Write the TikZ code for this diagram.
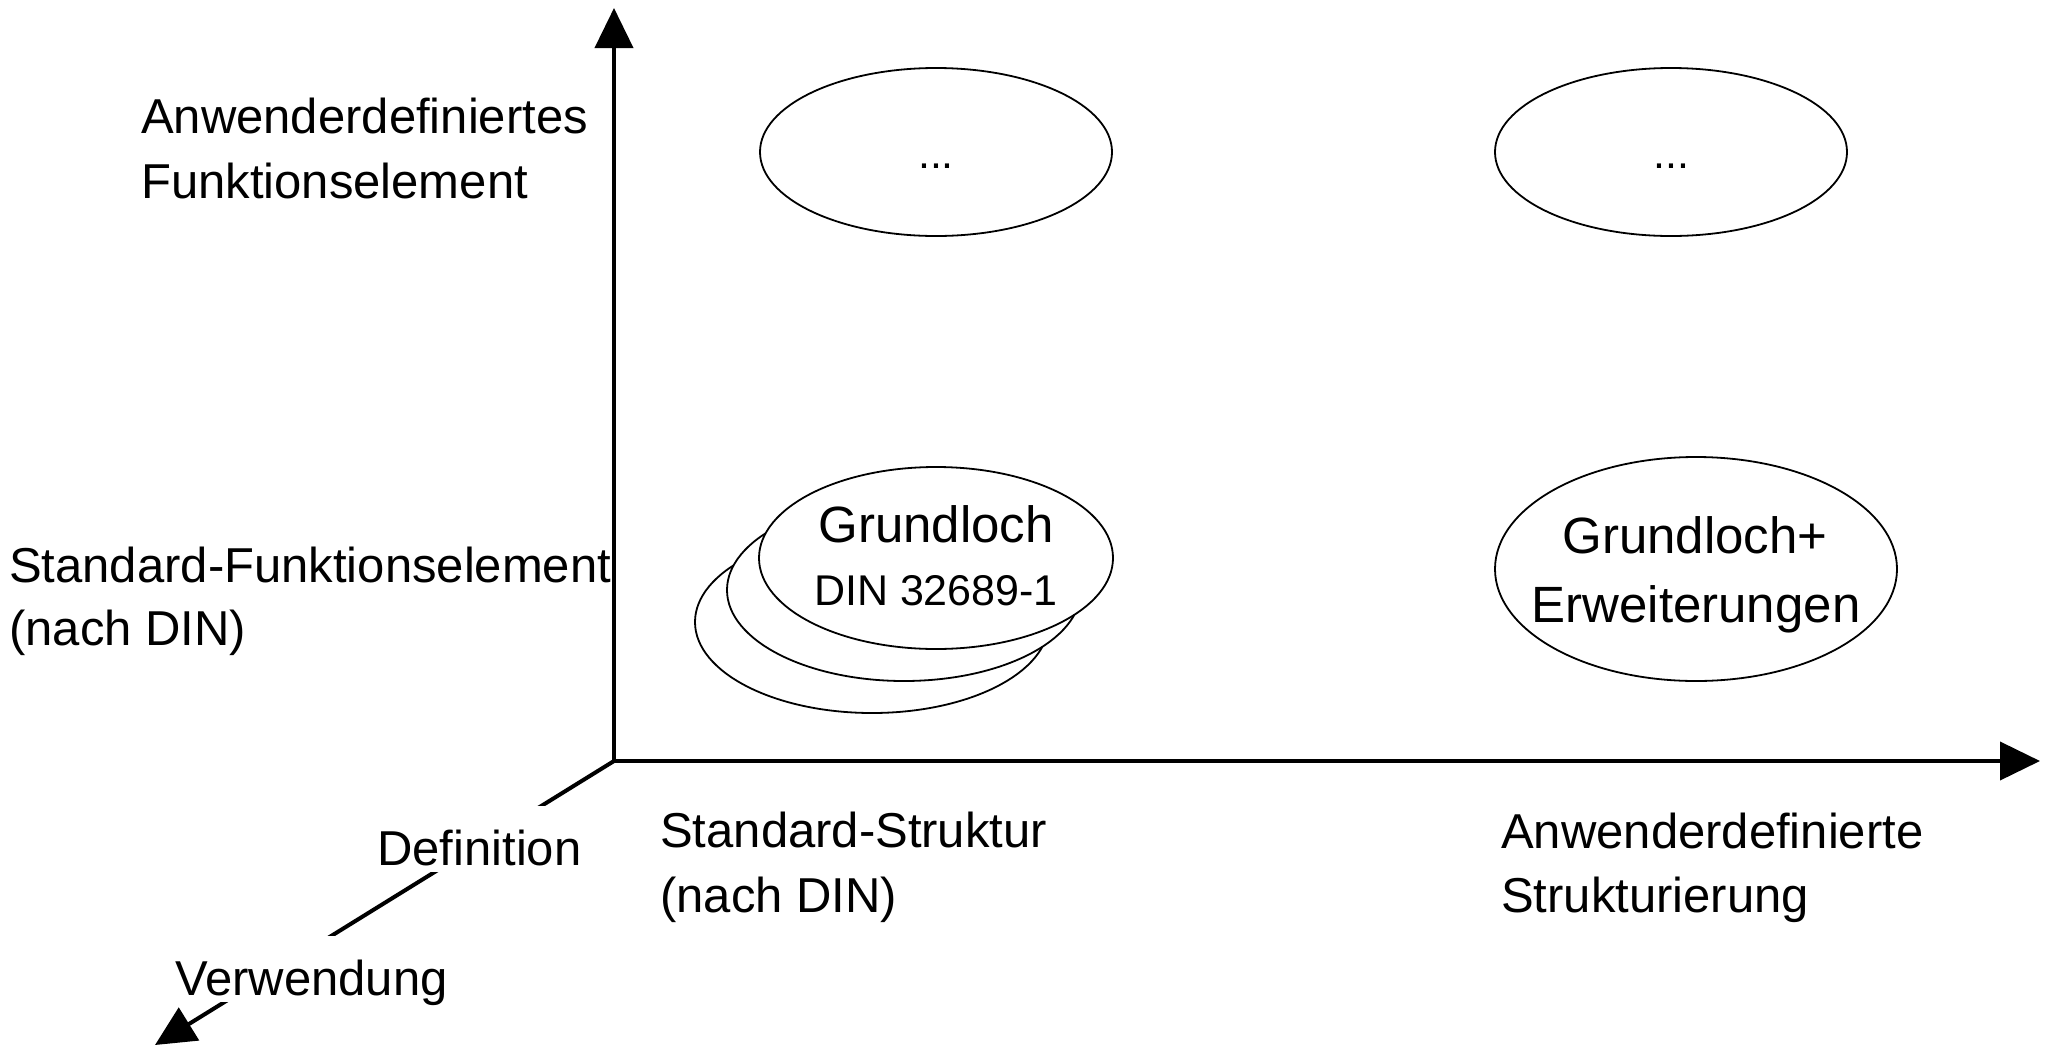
\documentclass[tikz,border=0pt]{standalone}
\usepackage{fontspec}
\setmainfont{Liberation Sans}
\usetikzlibrary{arrows.meta,shapes.geometric}
\begin{document}
\begin{tikzpicture}[x=1pt,y=-1pt,
  axistip/.style={line width=4pt},
  ell/.style={draw, ellipse, line width=1.8pt, fill=white, inner sep=0pt},
  bigell/.style={ell, minimum width=354pt, minimum height=182pt},
  lbl/.style={anchor=base west, inner sep=0pt, font=\fontsize{49}{64}\selectfont},
  ctxt/.style={anchor=base, inner sep=0pt, font=\fontsize{51}{60}\selectfont},
  smalltxt/.style={anchor=base, inner sep=0pt, font=\fontsize{43}{50}\selectfont},
  gaplbl/.style={lbl, fill=white, text height=59pt, text depth=7pt}]
\useasboundingbox (0,0) rectangle (2046,1047);

% axes
\coordinate (O) at (614,761);
\coordinate (T) at (614,8);
\coordinate (R) at (2040,761);
\coordinate (D) at (155,1045);
\draw[axistip, line join=miter, {Triangle[length=40pt,width=38pt]}-{Triangle[length=40pt,width=38pt]}] (T) -- (O) -- (R);
\draw[axistip, -{Triangle[length=40pt,width=38pt]}] (O) -- (D);

% axis labels on the diagonal (they break the line)
\node[gaplbl] (ldef) at (377,865) {Definition};
\node[gaplbl] (lver) at (175,995) {Verwendung};

% row / column labels
\node[lbl] (l1a) at (141,133) {Anwenderdefiniertes};
\node[lbl] (l1b) at (141,198) {Funktionselement};
\node[lbl] (l2a) at (9,582) {Standard-Funktionselement};
\node[lbl] (l2b) at (9,645) {(nach DIN)};
\node[lbl] (l3a) at (660,847) {Standard-Struktur};
\node[lbl] (l3b) at (660,912) {(nach DIN)};
\node[lbl] (l4a) at (1501,848) {Anwenderdefinierte};
\node[lbl] (l4b) at (1501,912) {Strukturierung};

% top ellipses
\node[ell, minimum width=352pt, minimum height=168pt] (e1) at (936,152) {};
\node[smalltxt] (d1) at (936,168) {...};
\node[ell, minimum width=352pt, minimum height=168pt] (e2) at (1671,152) {};
\node[smalltxt] (d2) at (1671,168) {...};

% stacked Grundloch ellipses
\node[bigell] (g3) at (872,622) {};
\node[bigell] (g2) at (904,590) {};
\node[bigell] (g1) at (936,558) {};
\node[ctxt] (t1) at (936,542) {Grundloch};
\node[smalltxt] (t2) at (936,605) {DIN 32689-1};

% Grundloch + Erweiterungen
\node[ell, minimum width=402pt, minimum height=224pt] (e3) at (1696,569) {};
\node[ctxt] (t3) at (1695,553) {Grundloch+};
\node[ctxt] (t4) at (1696,622) {Erweiterungen};
\end{tikzpicture}
\end{document}
